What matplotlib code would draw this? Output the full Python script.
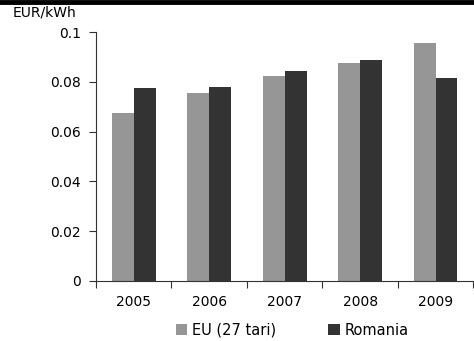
import numpy as np
import matplotlib
matplotlib.use("Agg")
import matplotlib.pyplot as plt
from matplotlib.lines import Line2D

# precio mediu energie electrica (EUR/kWh)
ani = ["2005", "2006", "2007", "2008", "2009"]
eu27 = [0.0675, 0.0755, 0.0823, 0.0876, 0.0956]
romania = [0.0775, 0.0779, 0.0843, 0.0888, 0.0815]

plt.rcParams["font.family"] = "DejaVu Sans"

fig = plt.figure(figsize=(4.74, 3.41), dpi=100)
ax = fig.add_axes([0.2025, 0.176, 0.796, 0.730])

x = np.arange(len(ani))
w = 0.29
ax.bar(x - w / 2, eu27, w, color="#969696", label="EU (27 tari)")
ax.bar(x + w / 2, romania, w, color="#333333", label="Romania")

ax.set_xlim(-0.5, len(ani) - 0.5)
ax.set_ylim(0, 0.1)
ax.set_yticks([0, 0.02, 0.04, 0.06, 0.08, 0.1])
ax.set_yticklabels(["0", "0.02", "0.04", "0.06", "0.08", "0.1"])

# etichetele anilor la mijloc, liniutele intre categorii
ax.set_xticks(np.arange(-0.5, len(ani)), minor=False)
ax.set_xticklabels([])
ax.set_xticks(x, minor=True)
ax.set_xticklabels(ani, minor=True)
ax.tick_params(axis="x", which="minor", length=0, pad=10, labelsize=10)
ax.tick_params(axis="x", which="major", length=5, direction="out", color="#333333")
ax.tick_params(axis="y", length=5, direction="out", labelsize=10, pad=6, color="#333333")

for s in ["top", "right"]:
    ax.spines[s].set_visible(False)
for s in ["left", "bottom"]:
    ax.spines[s].set_color("#333333")

fig.text(0.027, 0.962, "EUR/kWh", fontsize=10, va="center", ha="left")

# linia groasa de sus
fig.add_artist(Line2D([0, 1], [0.995, 0.995], transform=fig.transFigure,
                      color="black", linewidth=3.5))

ax.legend(loc="upper center", bbox_to_anchor=(0.52, -0.115), ncol=2,
          frameon=False, fontsize=10.5, handlelength=0.8, handleheight=0.8,
          handletextpad=0.3, columnspacing=3.6)

fig.savefig("out.png", dpi=100)
